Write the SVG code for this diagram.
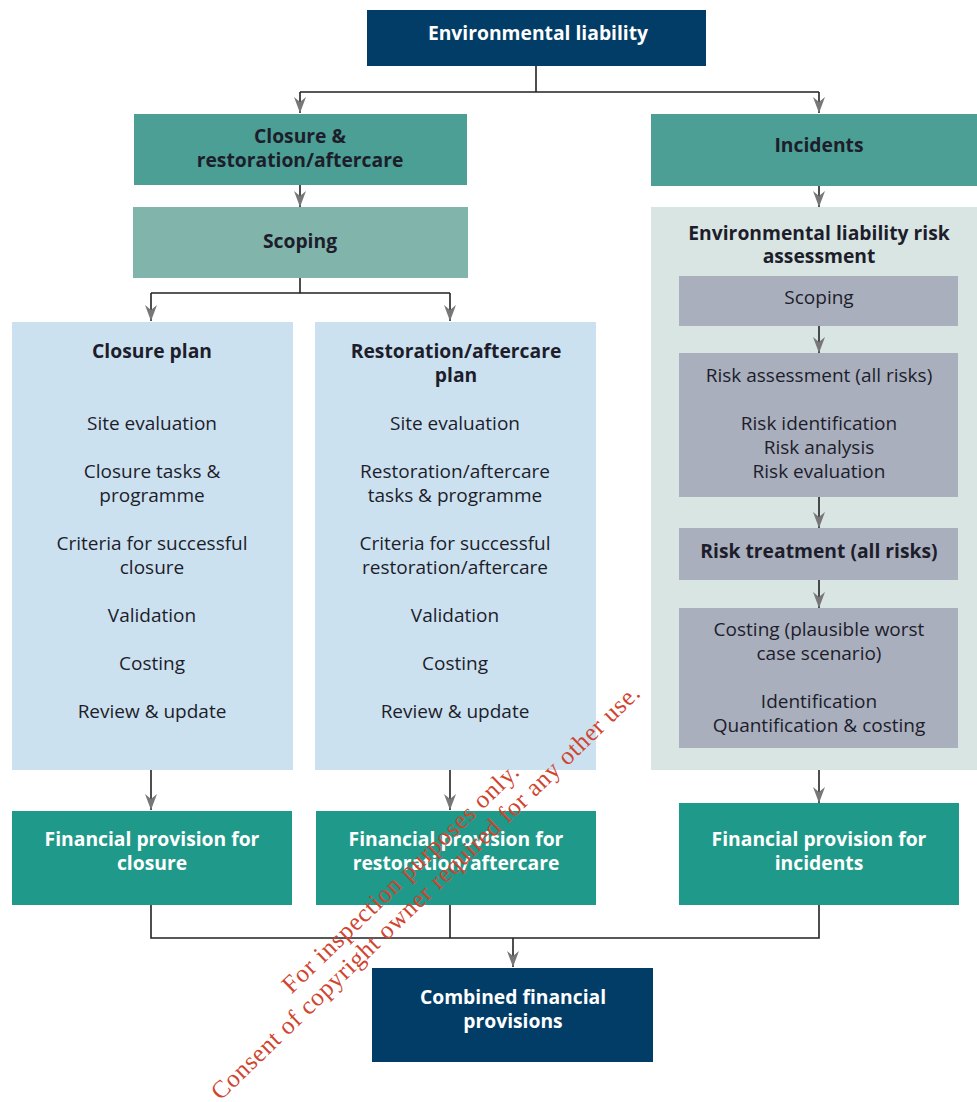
<svg xmlns="http://www.w3.org/2000/svg" width="977" height="1102" viewBox="0 0 977 1102">
<style>
text{font-family:"Open Sans","Noto Sans",sans-serif;font-size:19px;text-anchor:middle;fill:#1d1d2b}
.b{font-weight:bold;font-size:19.3px}
.w{fill:#ffffff;font-weight:bold;font-size:19.3px}
.navy{fill:#023d67}
.teal{fill:#4b9f94}
.scope{fill:#81b4aa}
.plan{fill:#cce1ef}
.pale{fill:#d8e5e3}
.grey{fill:#a9afbd}
.fin{fill:#1f9a8a}
.c{stroke:#222;stroke-width:1.6;fill:none}
.wm{font-family:"Liberation Serif",serif;font-size:25px;fill:#d0452f;text-anchor:middle}
</style>
<defs>
<marker id="ah" viewBox="0 0 16 12" markerWidth="16" markerHeight="12" refX="16" refY="6" orient="auto" markerUnits="userSpaceOnUse">
<path d="M0,0 L16,6 L0,12 L5,6 z" fill="#777"/>
</marker>
</defs>

<g id="n-env"><rect class="navy" x="367" y="10" width="339" height="56"/><text class="w" x="538" y="40">Environmental liability</text></g>
<g id="n-closrest"><rect class="teal" x="134" y="114" width="333" height="71"/><text class="b" x="300" y="143">Closure &amp;<tspan x="300" dy="24">restoration/aftercare</tspan></text></g>
<g id="n-incidents"><rect class="teal" x="651" y="114" width="326" height="72"/><text class="b" x="819" y="152">Incidents</text></g>
<g id="n-scoping"><rect class="scope" x="133" y="207" width="335" height="71"/><text class="b" x="300" y="248">Scoping</text></g>

<g id="n-closureplan"><rect class="plan" x="12" y="322" width="281" height="448"/>
<text class="b" x="152" y="358">Closure plan</text>
<text x="152" y="430">Site evaluation</text>
<text x="152" y="478">Closure tasks &amp;<tspan x="152" dy="24">programme</tspan></text>
<text x="152" y="550">Criteria for successful<tspan x="152" dy="24">closure</tspan></text>
<text x="152" y="622">Validation</text>
<text x="152" y="670">Costing</text>
<text x="152" y="718">Review &amp; update</text>
</g>
<g id="n-restplan"><rect class="plan" x="315" y="322" width="281" height="448"/>
<text class="b" x="456" y="358">Restoration/aftercare<tspan x="456" dy="24">plan</tspan></text>
<text x="455" y="430">Site evaluation</text>
<text x="455" y="478">Restoration/aftercare<tspan x="455" dy="24">tasks &amp; programme</tspan></text>
<text x="455" y="550">Criteria for successful<tspan x="455" dy="24">restoration/aftercare</tspan></text>
<text x="455" y="622">Validation</text>
<text x="455" y="670">Costing</text>
<text x="455" y="718">Review &amp; update</text>
</g>
<g id="n-risk"><rect class="pale" x="651" y="207" width="326" height="563"/>
<text class="b" x="819" y="240">Environmental liability risk<tspan x="819" dy="23">assessment</tspan></text>
</g>
<g id="n-rscoping"><rect class="grey" x="679" y="276" width="279" height="50"/><text x="819" y="304">Scoping</text></g>
<g id="n-rassess"><rect class="grey" x="679" y="353" width="279" height="144"/>
<text x="819" y="382">Risk assessment (all risks)</text>
<text x="819" y="430">Risk identification<tspan x="819" dy="24">Risk analysis</tspan><tspan x="819" dy="24">Risk evaluation</tspan></text>
</g>
<g id="n-rtreat"><rect class="grey" x="679" y="528" width="279" height="52"/><text class="b" x="819" y="558">Risk treatment (all risks)</text></g>
<g id="n-rcost"><rect class="grey" x="679" y="608" width="279" height="140"/>
<text x="819" y="636">Costing (plausible worst<tspan x="819" dy="24">case scenario)</tspan></text>
<text x="819" y="708">Identification<tspan x="819" dy="24">Quantification &amp; costing</tspan></text>
</g>
<g id="n-finclos"><rect class="fin" x="12" y="811" width="280" height="94"/><text class="w" x="152" y="846">Financial provision for<tspan x="152" dy="24">closure</tspan></text></g>
<g id="n-finrest"><rect class="fin" x="316" y="811" width="280" height="94"/><text class="w" x="456" y="846">Financial provision for<tspan x="456" dy="24">restoration/aftercare</tspan></text></g>
<g id="n-fininc"><rect class="fin" x="679" y="803" width="280" height="102"/><text class="w" x="819" y="846">Financial provision for<tspan x="819" dy="24">incidents</tspan></text></g>
<g id="n-combined"><rect class="navy" x="372" y="968" width="281" height="94"/><text class="w" x="513" y="1004">Combined financial<tspan x="513" dy="24">provisions</tspan></text></g>

<g id="connectors">
<path class="c" d="M536,66 V92 M300,92 H819"/>
<path class="c" d="M300,92 V113" marker-end="url(#ah)"/>
<path class="c" d="M819,92 V113" marker-end="url(#ah)"/>
<path class="c" d="M300,185 V207" marker-end="url(#ah)"/>
<path class="c" d="M819,186 V207" marker-end="url(#ah)"/>
<path class="c" d="M300,278 V293 M151,293 H450"/>
<path class="c" d="M151,293 V321" marker-end="url(#ah)"/>
<path class="c" d="M450,293 V321" marker-end="url(#ah)"/>
<path class="c" d="M819,326 V353" marker-end="url(#ah)"/>
<path class="c" d="M819,497 V528" marker-end="url(#ah)"/>
<path class="c" d="M819,580 V608" marker-end="url(#ah)"/>
<path class="c" d="M151,770 V810" marker-end="url(#ah)"/>
<path class="c" d="M450,770 V810" marker-end="url(#ah)"/>
<path class="c" d="M819,770 V803" marker-end="url(#ah)"/>
<path class="c" d="M151,905 V938 H819 V905 M450,905 V938"/>
<path class="c" d="M513,938 V967" marker-end="url(#ah)"/>
</g>

<g id="watermark">
<text class="wm" transform="translate(406,884) rotate(-44)" textLength="318">For inspection purposes only.</text>
<text class="wm" transform="translate(431,898) rotate(-44)" textLength="585">Consent of copyright owner required for any other use.</text>
</g>
</svg>
